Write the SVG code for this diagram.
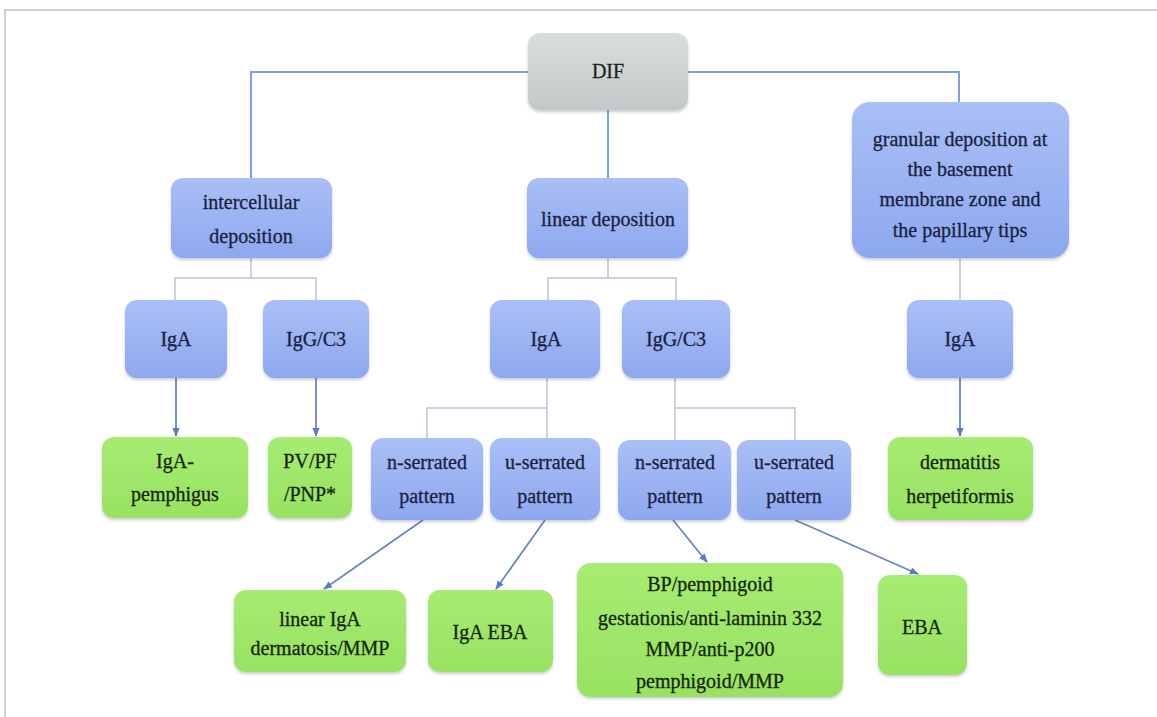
<svg xmlns="http://www.w3.org/2000/svg" width="1157" height="717" viewBox="0 0 1157 717">
<defs>
<linearGradient id="gBlue" x1="0" y1="0" x2="0" y2="1">
<stop offset="0" stop-color="#aabff6"/>
<stop offset="1" stop-color="#8ea8ef"/>
</linearGradient>
<linearGradient id="gGreen" x1="0" y1="0" x2="0" y2="1">
<stop offset="0" stop-color="#a6ec72"/>
<stop offset="1" stop-color="#98e262"/>
</linearGradient>
<linearGradient id="gGray" x1="0" y1="0" x2="0" y2="1">
<stop offset="0" stop-color="#d9dddd"/>
<stop offset="1" stop-color="#c3c8c8"/>
</linearGradient>
<filter id="sh" x="-10%" y="-10%" width="120%" height="130%">
<feDropShadow dx="0" dy="2" stdDeviation="1.5" flood-color="#556" flood-opacity="0.3"/>
</filter>
<marker id="ah" viewBox="0 0 10 10" refX="9" refY="5" markerWidth="5" markerHeight="5" orient="auto">
<path d="M0,1 L10,5 L0,9 z" fill="#5a7bc8"/>
</marker>
<style>
.b{fill:url(#gBlue);filter:url(#sh)}
.g{fill:url(#gGreen);filter:url(#sh)}
.d{fill:url(#gGray);filter:url(#sh)}
.tb{fill:#1a2240;stroke:#1a2240;stroke-width:0.3}
.tg{fill:#18260e;stroke:#18260e;stroke-width:0.3}
.td{fill:#222;stroke:#222;stroke-width:0.3}
.c1{fill:none;stroke:#7f9ef2;stroke-width:2}
.c2{fill:none;stroke:#b9c4da;stroke-width:1.5}
.c3{fill:none;stroke:#6a86c6;stroke-width:1.8}
</style>
</defs>
<rect x="0" y="0" width="1157" height="717" fill="#ffffff"/>
<path d="M5,717 V10 H1157" fill="none" stroke="#d0d0d0" stroke-width="2"/>

<g id="connectors">
<path class="c1" d="M251,180 V72 H959 V102"/>
<path class="c1" d="M608,110 V178"/>
<path class="c2" d="M251,258 V278 M175,300 V278 H316 V300"/>
<path class="c2" d="M608,258 V278 M548,300 V278 H676 V300"/>
<path class="c2" d="M960,258 V300"/>
<path class="c3" d="M176,378 V436" marker-end="url(#ah)"/>
<path class="c3" d="M316,378 V436" marker-end="url(#ah)"/>
<path class="c2" d="M547,378 V438 M547,408 H427 V438"/>
<path class="c2" d="M675,378 V440 M675,408 H795 V440"/>
<path class="c3" d="M960,378 V436" marker-end="url(#ah)"/>
<path class="c3" d="M423,520 L324,589" marker-end="url(#ah)"/>
<path class="c3" d="M545,520 L496,589" marker-end="url(#ah)"/>
<path class="c3" d="M673,520 L707,562" marker-end="url(#ah)"/>
<path class="c3" d="M795,520 L918,574" marker-end="url(#ah)"/>
</g>

<g font-family="'Liberation Serif', 'Times New Roman', serif" font-size="20" text-anchor="middle">
<g id="dif"><rect class="d" x="528" y="33" width="160" height="77" rx="12"/><text class="td" x="608" y="78">DIF</text></g>

<g id="intercellular"><rect class="b" x="171" y="178" width="161" height="80" rx="12"/>
<text class="tb" x="251" y="209">intercellular</text><text class="tb" x="251" y="243">deposition</text></g>
<g id="linear"><rect class="b" x="527" y="178" width="161" height="80" rx="12"/>
<text class="tb" x="608" y="226">linear deposition</text></g>
<g id="granular"><rect class="b" x="852" y="102" width="217" height="156" rx="18"/>
<text class="tb" x="960" y="146">granular deposition at</text>
<text class="tb" x="960" y="176">the basement</text>
<text class="tb" x="960" y="206">membrane zone and</text>
<text class="tb" x="960" y="237">the papillary tips</text></g>

<g id="iga1"><rect class="b" x="125" y="300" width="102" height="78" rx="12"/><text class="tb" x="176" y="346">IgA</text></g>
<g id="igg1"><rect class="b" x="263" y="300" width="106" height="78" rx="12"/><text class="tb" x="316" y="346">IgG/C3</text></g>
<g id="iga2"><rect class="b" x="490" y="300" width="110" height="78" rx="12"/><text class="tb" x="546" y="346">IgA</text></g>
<g id="igg2"><rect class="b" x="622" y="300" width="108" height="78" rx="12"/><text class="tb" x="676" y="346">IgG/C3</text></g>
<g id="iga3"><rect class="b" x="907" y="300" width="106" height="78" rx="12"/><text class="tb" x="960" y="346">IgA</text></g>

<g id="igapemph"><rect class="g" x="102" y="437" width="146" height="81" rx="12"/>
<text class="tg" x="175" y="468">IgA-</text><text class="tg" x="175" y="501">pemphigus</text></g>
<g id="pvpf"><rect class="g" x="268" y="437" width="84" height="81" rx="12"/>
<text class="tg" x="310" y="468">PV/PF</text><text class="tg" x="310" y="501">/PNP*</text></g>
<g id="nser1"><rect class="b" x="371" y="438" width="112" height="82" rx="12"/>
<text class="tb" x="427" y="469">n-serrated</text><text class="tb" x="427" y="503">pattern</text></g>
<g id="user1"><rect class="b" x="490" y="438" width="110" height="82" rx="12"/>
<text class="tb" x="545" y="469">u-serrated</text><text class="tb" x="545" y="503">pattern</text></g>
<g id="nser2"><rect class="b" x="618" y="440" width="113" height="80" rx="12"/>
<text class="tb" x="675" y="469">n-serrated</text><text class="tb" x="675" y="503">pattern</text></g>
<g id="user2"><rect class="b" x="737" y="440" width="114" height="80" rx="12"/>
<text class="tb" x="794" y="469">u-serrated</text><text class="tb" x="794" y="503">pattern</text></g>
<g id="dh"><rect class="g" x="888" y="437" width="145" height="83" rx="12"/>
<text class="tg" x="960" y="469">dermatitis</text><text class="tg" x="960" y="503">herpetiformis</text></g>

<g id="lad"><rect class="g" x="234" y="590" width="172" height="82" rx="12"/>
<text class="tg" x="320" y="626">linear IgA</text><text class="tg" x="320" y="655">dermatosis/MMP</text></g>
<g id="igaeba"><rect class="g" x="428" y="590" width="125" height="82" rx="12"/>
<text class="tg" x="490" y="639">IgA EBA</text></g>
<g id="bp"><rect class="g" x="577" y="563" width="266" height="134" rx="14"/>
<text class="tg" x="710" y="591">BP/pemphigoid</text>
<text class="tg" x="710" y="625">gestationis/anti-laminin 332</text>
<text class="tg" x="710" y="656">MMP/anti-p200</text>
<text class="tg" x="710" y="688">pemphigoid/MMP</text></g>
<g id="eba"><rect class="g" x="878" y="575" width="89" height="100" rx="12"/>
<text class="tg" x="922" y="634">EBA</text></g>
</g>
</svg>
